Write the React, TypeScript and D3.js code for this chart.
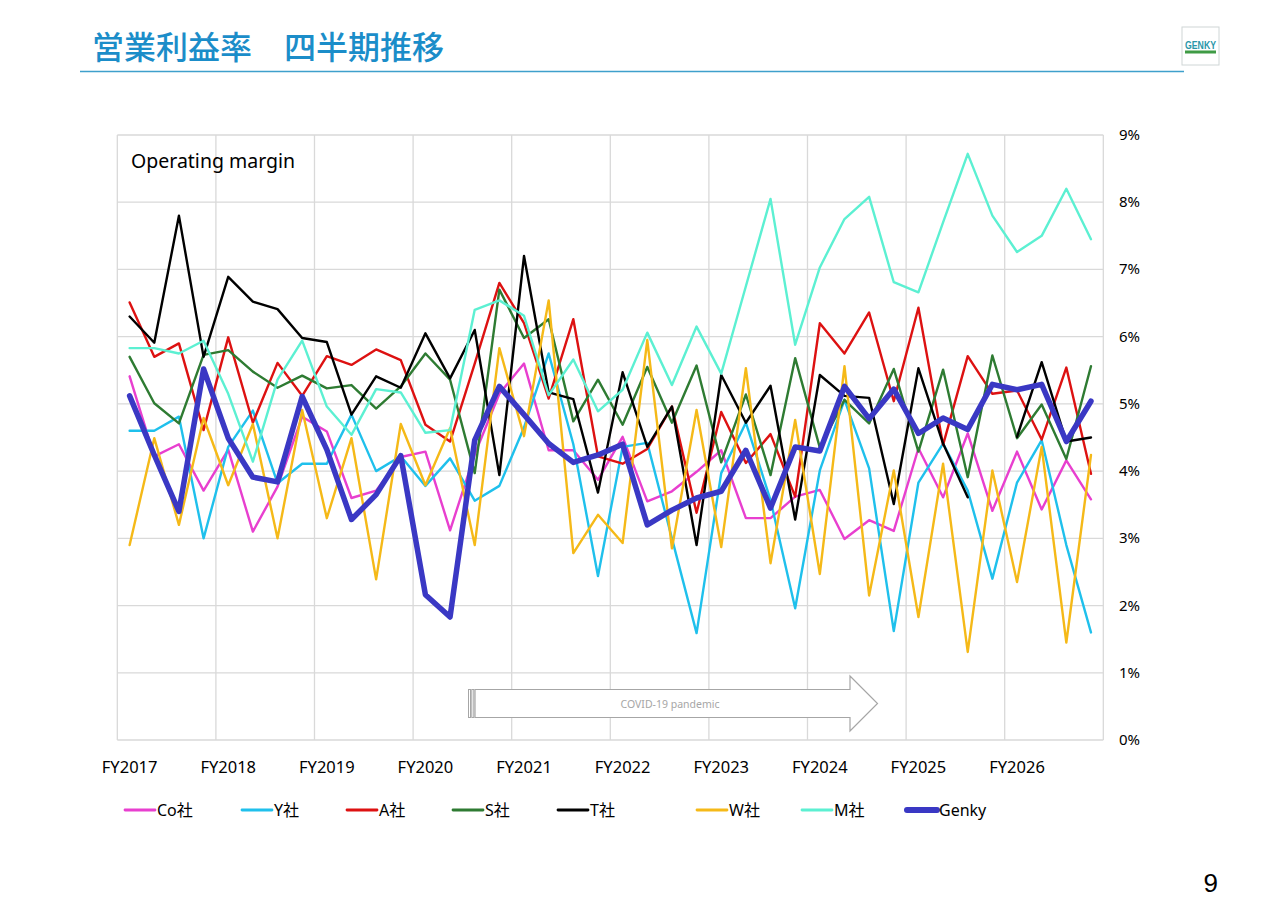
import React, { useEffect, useRef } from 'react';
import * as d3 from 'd3';

// fiscal years on the category axis, four quarters each
const years = ["FY2017", "FY2018", "FY2019", "FY2020", "FY2021", "FY2022", "FY2023", "FY2024", "FY2025", "FY2026"];
const quarters = years.flatMap(y => ["Q1", "Q2", "Q3", "Q4"].map(q => `${y} ${q}`));

// operating margin (%) per quarter
const coSha = [5.41, 4.22, 4.40, 3.71, 4.32, 3.10, 3.77, 4.81, 4.59, 3.60, 3.71, 4.21, 4.29, 3.12, 4.25, 5.15, 5.60, 4.31, 4.31, 3.87,
  4.51, 3.55, 3.70, 3.99, 4.31, 3.30, 3.30, 3.62, 3.72, 2.99, 3.27, 3.11, 4.34, 3.61, 4.56, 3.41, 4.29, 3.43, 4.16, 3.58];
const ySha = [4.60, 4.60, 4.81, 3.00, 4.36, 4.90, 3.82, 4.11, 4.11, 4.84, 4.00, 4.22, 3.78, 4.19, 3.56, 3.78, 4.65, 5.75, 4.40, 2.44,
  4.36, 4.42, 3.00, 1.59, 3.97, 4.72, 3.57, 1.96, 4.01, 5.06, 4.04, 1.62, 3.83, 4.41, 3.71, 2.40, 3.83, 4.46, 2.90, 1.60];
const aSha = [6.51, 5.70, 5.90, 4.61, 5.99, 4.72, 5.61, 5.12, 5.71, 5.58, 5.81, 5.65, 4.69, 4.44, 5.60, 6.80, 6.20, 5.08, 6.26, 4.22,
  4.11, 4.33, 4.96, 3.38, 4.88, 4.12, 4.55, 3.62, 6.20, 5.75, 6.36, 5.04, 6.43, 4.39, 5.71, 5.15, 5.20, 4.47, 5.54, 3.96];
const sSha = [5.70, 5.01, 4.71, 5.73, 5.80, 5.48, 5.24, 5.42, 5.23, 5.28, 4.93, 5.26, 5.75, 5.36, 3.97, 6.70, 5.98, 6.26, 4.74, 5.36,
  4.69, 5.55, 4.72, 5.57, 4.13, 5.14, 3.94, 5.68, 4.35, 5.06, 4.71, 5.52, 4.29, 5.51, 3.91, 5.72, 4.49, 4.99, 4.18, 5.56];
const tSha = [6.30, 5.91, 7.80, 5.70, 6.89, 6.52, 6.41, 5.98, 5.92, 4.84, 5.41, 5.24, 6.05, 5.38, 6.10, 3.94, 7.20, 5.17, 5.07, 3.68,
  5.47, 4.36, 4.96, 2.90, 5.43, 4.72, 5.27, 3.28, 5.43, 5.12, 5.09, 3.51, 5.53, 4.41, 3.61, null, 4.51, 5.62, 4.44, 4.50];
const wSha = [2.90, 4.49, 3.20, 4.79, 3.79, 4.70, 3.00, 4.91, 3.30, 4.49, 2.39, 4.70, 3.79, 4.64, 2.90, 5.83, 4.52, 6.54, 2.78, 3.35,
  2.93, 5.95, 2.85, 4.91, 2.87, 5.53, 2.63, 4.76, 2.47, 5.56, 2.15, 4.01, 1.83, 4.11, 1.31, 4.01, 2.35, 4.36, 1.45, 4.24];
const mSha = [5.83, 5.83, 5.75, 5.94, 5.15, 4.14, 5.36, 5.94, 4.96, 4.54, 5.22, 5.17, 4.57, 4.61, 6.40, 6.54, 6.31, 5.13, 5.66, 4.89,
  5.21, 6.06, 5.28, 6.15, 5.45, 6.75, 8.05, 5.88, 7.03, 7.75, 8.08, 6.81, 6.66, 7.70, 8.72, 7.80, 7.26, 7.50, 8.20, 7.45];
const genky = [5.12, 4.24, 3.40, 5.52, 4.49, 3.91, 3.84, 5.11, 4.32, 3.28, 3.65, 4.23, 2.16, 1.83, 4.46, 5.26, 4.84, 4.41, 4.13, 4.24,
  4.40, 3.20, 3.42, 3.60, 3.70, 4.31, 3.45, 4.36, 4.30, 5.26, 4.78, 5.22, 4.56, 4.79, 4.62, 5.29, 5.21, 5.29, 4.44, 5.04];

const seriesNames = ["Co社", "Y社", "A社", "S社", "T社", "W社", "M社", "Genky"];
const seriesValues = [coSha, ySha, aSha, sSha, tSha, wSha, mSha, genky];
const yTicks = [0, 1, 2, 3, 4, 5, 6, 7, 8, 9];

const colors = ["#e83fcf", "#1fc0ec", "#dd1111", "#2e7b32", "#000000", "#f5b918", "#5cf0d2", "#3a38c4"];
const widths = [2.4, 2.4, 2.4, 2.4, 2.4, 2.4, 2.4, 5.5];
const legendX = [125, 242, 347, 453, 558, 697, 802, 907];

const FONT = "'Noto Sans', 'Noto Sans CJK JP', sans-serif";

const App: React.FC = () => {
  const svgRef = useRef<SVGSVGElement>(null);

  useEffect(() => {
    if (!svgRef.current) return;
    const svg = d3.select(svgRef.current);
    svg.selectAll("*").remove();

    // header
    svg.append("text")
      .attr("x", 92).attr("y", 59)
      .attr("font-family", "'Noto Sans CJK JP', sans-serif")
      .attr("font-size", 32)
      .attr("font-weight", 500)
      .attr("fill", "#1b8dc9")
      .text("営業利益率　四半期推移");
    svg.append("line")
      .attr("x1", 80).attr("x2", 1184).attr("y1", 71.5).attr("y2", 71.5)
      .attr("stroke", "#3ea0cc").attr("stroke-width", 1.5);

    // logo
    const logo = svg.append("g");
    logo.append("rect").attr("x", 1182).attr("y", 27).attr("width", 37).attr("height", 38)
      .attr("fill", "#fff").attr("stroke", "#cfd6d6").attr("stroke-width", 1);
    logo.append("text").attr("x", 1185).attr("y", 49)
      .attr("font-family", "'Liberation Sans', sans-serif").attr("font-weight", "bold")
      .attr("font-size", 11).attr("fill", "#2a96a8")
      .attr("textLength", 31).attr("lengthAdjust", "spacingAndGlyphs")
      .text("GENKY");
    logo.append("rect").attr("x", 1185).attr("y", 50.5).attr("width", 31).attr("height", 3).attr("fill", "#3f9b45");

    const x = d3.scaleBand().domain(quarters).range([117.3, 1103.3]);
    const y = d3.scaleLinear().domain([0, 9]).range([740, 135]);
    const cx = (q: string) => (x(q) ?? 0) + x.bandwidth() / 2;

    // gridlines
    const grid = svg.append("g").attr("stroke", "#d9d9d9").attr("stroke-width", 1.3);
    grid.selectAll("line.h").data(yTicks).join("line")
      .attr("x1", 117.3).attr("x2", 1103.3)
      .attr("y1", d => y(d)).attr("y2", d => y(d));
    grid.selectAll("line.v").data([...years.map(yr => x(`${yr} Q1`) ?? 0), 1103.3]).join("line")
      .attr("x1", d => d).attr("x2", d => d)
      .attr("y1", y(9)).attr("y2", y(0));

    // right axis labels
    svg.append("g").selectAll("text").data(yTicks).join("text")
      .attr("x", 1119).attr("y", d => y(d) + 5)
      .attr("font-family", FONT).attr("font-size", 15).attr("fill", "#000")
      .text(d => `${d}%`);

    // category labels (one per fiscal year)
    svg.append("g").selectAll("text").data(years).join("text")
      .attr("x", d => cx(`${d} Q1`)).attr("y", 773)
      .attr("text-anchor", "middle")
      .attr("font-family", FONT).attr("font-size", 16.5).attr("fill", "#000")
      .text(d => d);

    svg.append("text").attr("x", 131).attr("y", 168)
      .attr("font-family", FONT).attr("font-size", 19.5).attr("fill", "#000")
      .text("Operating margin");

    // COVID annotation arrow
    const arrow = svg.append("g");
    arrow.append("path")
      .attr("d", "M475,689.5 L850,689.5 L850,676 L877.5,703.5 L850,731 L850,717.5 L475,717.5 Z")
      .attr("fill", "#fff").attr("stroke", "#a6a6a6").attr("stroke-width", 1.2);
    arrow.append("rect").attr("x", 468.5).attr("y", 689.5).attr("width", 2).attr("height", 28)
      .attr("fill", "#fff").attr("stroke", "#a6a6a6").attr("stroke-width", 1);
    arrow.append("rect").attr("x", 471.8).attr("y", 689.5).attr("width", 2).attr("height", 28)
      .attr("fill", "#fff").attr("stroke", "#a6a6a6").attr("stroke-width", 1);
    arrow.append("text").attr("x", 670).attr("y", 708).attr("text-anchor", "middle")
      .attr("font-family", FONT).attr("font-size", 10.5).attr("fill", "#a6a6a6")
      .text("COVID-19 pandemic");

    // series lines
    const line = d3.line<number | null>()
      .defined(d => d != null)
      .x((_, i) => cx(quarters[i]))
      .y(d => y(d as number));

    svg.append("g").selectAll("path").data(seriesValues).join("path")
      .attr("d", d => line(d))
      .attr("fill", "none")
      .attr("stroke", (_, i) => colors[i])
      .attr("stroke-width", (_, i) => widths[i])
      .attr("stroke-linejoin", "round")
      .attr("stroke-linecap", "round");

    // legend
    const lg = svg.append("g").selectAll("g").data(seriesNames).join("g")
      .attr("transform", (_, i) => `translate(${legendX[i]},810)`);
    lg.append("line").attr("x1", 0).attr("x2", 30).attr("y1", 0).attr("y2", 0)
      .attr("stroke", (_, i) => colors[i]).attr("stroke-width", (_, i) => i === 7 ? 6 : 2.8)
      .attr("stroke-linecap", "round");
    lg.append("text").attr("x", 32).attr("y", 6)
      .attr("font-family", FONT).attr("font-size", 16).attr("fill", "#000")
      .text(d => d);

    // page number
    svg.append("text").attr("x", 1218).attr("y", 892).attr("text-anchor", "end")
      .attr("font-family", "'Liberation Sans Narrow', 'Liberation Sans', sans-serif")
      .attr("font-size", 26).attr("fill", "#000").text("9");
  }, []);

  return (
    <svg ref={svgRef} width={1280} height={904}
      style={{ position: 'absolute', left: 0, top: 0, background: '#fff' }} />
  );
};

export default App;
